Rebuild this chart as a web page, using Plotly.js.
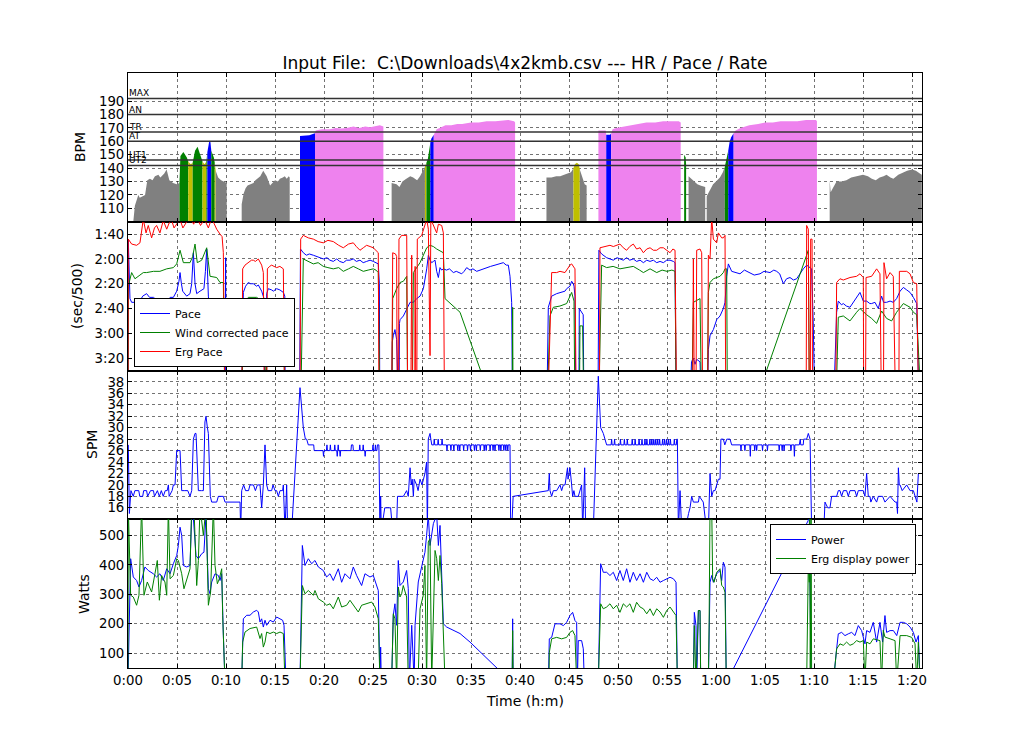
<!DOCTYPE html>
<html><head><meta charset="utf-8">
<script src="https://cdn.plot.ly/plotly-3.0.1.min.js"></script>
<style>html,body{margin:0;padding:0;background:#fff}</style>
</head><body><div id="chart" style="width:1024px;height:742px"></div>
<script>
// ---------- DATA (time in minutes) ----------
const zoneNames = ['MAX','AN','TR','AT','UT1','UT2'];
const zoneBpm   = [192, 180, 167, 160, 146, 142];

const xTickVals = [0,5,10,15,20,25,30,35,40,45,50,55,60,65,70,75,80];
const xTickLabels = ['0:00','0:05','0:10','0:15','0:20','0:25','0:30','0:35','0:40','0:45','0:50','0:55','1:00','1:05','1:10','1:15','1:20'];
const bpmTicks = [110,120,130,140,150,160,170,180,190];
const paceTickVals = [100,120,140,160,180,200];
const paceTickLabels = ['1:40','2:00','2:20','2:40','3:00','3:20'];
const spmTicks = [16,18,20,22,24,26,28,30,32,34,36,38];
const wattTicks = [100,200,300,400,500];
const panelTitles = ['BPM','(sec/500)','SPM','Watts'];
const chartTitle = 'Input File:\u00a0 C:\\Downloads\\4x2kmb.csv --- HR / Pace / Rate';
const xTitle = 'Time (h:m)';

const hrSamples = [
[0.54,100],[0.7,112],[1.05,120],[1.2,118],[1.5,119],[1.74,120],[1.97,131],[2.24,132],[2.5,131],[2.75,134],[3.1,135],[3.3,133],[3.43,134],[3.7,136],[3.94,139],[4.22,131],[4.6,129],[4.97,128],[5.25,129],[5.35,149],[5.65,152],[6.0,148],[6.15,145],[6.4,143],[6.6,144],[6.7,147],[6.84,153],[7.1,156],[7.4,149],[7.6,145],[7.8,143],[8.0,145],[8.1,152],[8.3,160.5],[8.4,160],[8.5,153],[8.76,148],[8.85,144],[8.95,138],[9.2,133],[9.5,131],[9.8,130],[10.07,129],[10.1,null],
[11.6,113],[11.8,121],[12.0,125],[12.2,127],[12.5,128],[12.8,129],[13.0,131],[13.2,132],[13.5,134],[13.8,138],[14.15,134],[14.5,127],[14.75,129],[15.0,131],[15.3,130],[15.5,132],[15.8,133],[16.0,134],[16.2,132],[16.4,134],[16.5,133],[16.55,null],
[17.55,164],[18.0,164],[18.5,164.5],[19.08,166],[19.15,168],[19.8,169],[20.6,169],[21.2,170],[21.8,169.5],[22.3,170],[23.0,171],[23.6,170],[24.2,171],[24.7,170.5],[25.2,171],[25.7,172],[26.06,171],[26.1,null],
[26.9,129],[27.4,128],[27.7,126],[28.0,130],[28.4,132],[28.8,134],[29.1,133],[29.5,131],[29.8,134],[30.1,138],[30.3,141],[30.45,144],[30.6,147],[30.85,159],[30.95,162],[31.2,165],[31.4,167.5],[31.5,169],[31.8,170],[32.4,172],[33.0,172],[33.6,173],[34.1,173],[35.0,174],[35.8,174],[36.6,175],[37.5,175],[38.2,175.5],[38.8,176],[39.4,175],[39.5,174],[39.55,null],
[42.7,133],[43.2,133],[43.7,134],[44.1,134],[44.5,135],[44.9,136],[45.2,137],[45.45,140],[45.6,143],[45.8,144],[46.0,143],[46.1,139],[46.3,134],[46.6,128],[46.8,127],[46.85,null],
[48.0,168],[48.4,168],[48.75,168],[48.8,165],[49.2,165],[49.3,166],[49.45,169],[49.8,170],[50.5,171],[51.2,172],[52.0,173],[52.9,174],[53.8,174],[54.6,175],[55.4,175],[56.2,175],[56.4,174],[56.45,null],
[56.75,150],[56.9,148],[56.95,143],[57.0,null],[57.2,134],[57.5,132],[57.8,130],[58.1,128],[58.4,127],[58.9,126],[58.95,null],[59.05,119],[59.2,121],[59.4,124],[59.7,128],[60.0,130],[60.4,133],[60.7,137],[60.9,141],[61.1,147],[61.25,153],[61.4,160],[61.55,163],[61.8,166],[61.95,167.5],[62.0,168],[62.5,170],[63.4,172],[64.3,173],[65.0,174],[65.8,174],[66.6,175],[67.5,175],[68.3,175],[69.2,176],[70.2,176],[70.3,175],[70.35,null],
[71.6,131],[71.7,122],[71.85,124],[72.3,130],[72.8,130],[73.3,131],[73.8,133],[74.4,134],[75.0,135],[75.5,134],[75.9,132],[76.3,131],[76.7,133],[77.1,134],[77.4,135],[77.8,133],[78.1,132],[78.6,135],[79.1,137],[79.5,138],[80.0,139],[80.4,138],[80.8,136],[81.0,135]
];

const paceSamples = [
[0,250],[0.03,104],[0.2,152],[0.37,155],[0.71,155],[1.0,153],[1.22,154],[1.5,150],[1.9,148],[2.2,151],[2.6,151],[2.9,153],[3.26,152],[3.6,155],[3.95,154],[4.3,151],[4.63,151],[4.97,146],[5.2,138],[5.31,131],[5.45,140],[5.58,146],[5.99,150],[6.33,148],[6.5,140],[6.67,115],[6.84,140],[7.01,148],[7.35,146],[7.75,144],[7.9,130],[8.03,112],[8.2,150],[8.3,160],[8.54,158],[8.88,157],[9.2,158],[9.39,156],[9.56,155],[9.73,154],[9.85,175],[9.9,250],[9.96,119],[10.0,250],
[11.55,250],[11.7,160],[11.77,147],[12.0,142],[12.28,139],[12.5,140],[12.79,140],[13.13,142],[13.3,141],[13.64,146],[13.88,152],[13.95,250],[14.1,250],[14.15,148],[14.32,144],[14.66,145],[14.83,146],[15.17,144],[15.5,145],[15.85,147],[16.0,150],[16.05,250],
[17.5,250],[17.6,112],[17.89,115],[18.2,117],[18.5,116],[18.91,117],[19.3,118],[19.6,119],[19.93,120],[20.3,119],[20.6,121],[20.95,122],[21.3,120],[21.6,122],[21.97,123],[22.3,121],[22.65,121],[22.99,120],[23.3,122],[23.67,121],[24.0,123],[24.35,122],[24.7,121],[25.03,122],[25.3,123],[25.54,124],[25.65,140],[25.7,250],
[26.9,250],[26.97,187],[27.07,182],[27.24,177],[27.41,185],[27.48,250],[27.65,250],[27.7,172],[27.76,169],[28.1,166],[28.44,160],[28.78,155],[29.12,155],[29.46,152],[29.8,150],[30.14,144],[30.48,128],[30.65,117],[30.82,121],[30.99,123],[31.16,122],[31.33,121],[31.5,130],[31.67,135],[31.84,127],[32.01,129],[32.18,128],[32.5,129],[32.8,128],[33.2,131],[33.5,130],[33.88,131],[34.05,132],[34.3,130],[34.56,127],[34.9,129],[35.2,128],[35.58,130],[35.92,129],[36.2,128],[36.6,127],[37.0,126],[37.45,125],[37.8,124],[38.3,123],[38.6,125],[38.81,125],[38.98,134],[39.15,155],[39.25,250],
[42.72,250],[42.89,159],[43.23,150],[43.74,148],[44.25,147],[44.59,146],[44.76,144],[45.1,142],[45.27,138],[45.44,140],[45.51,142],[45.61,150],[45.71,250],[46.0,250],[46.05,160],[46.29,163],[46.45,165],[46.53,250],
[47.95,250],[48.05,113],[48.33,116],[48.84,119],[49.18,120],[49.52,121],[49.9,119],[50.2,120],[50.54,121],[50.88,119],[51.2,121],[51.56,120],[51.9,122],[52.25,121],[52.59,123],[52.93,121],[53.27,122],[53.61,121],[53.95,123],[54.29,122],[54.63,123],[54.97,121],[55.31,121],[55.65,122],[55.82,123],[55.95,250],
[57.3,250],[57.5,203],[57.69,200],[57.86,205],[58.03,201],[58.37,203],[58.54,250],[59.1,250],[59.22,193],[59.39,182],[59.56,180],[59.73,177],[60.07,169],[60.41,166],[60.75,160],[60.92,155],[61.09,134],[61.26,124],[61.6,130],[62.0,131],[62.45,132],[62.9,129],[63.47,131],[63.9,133],[64.49,132],[64.9,130],[65.51,131],[65.9,129],[66.19,130],[66.5,132],[66.87,140],[67.2,136],[67.55,135],[67.9,137],[68.23,136],[68.6,131],[68.91,128],[69.25,125],[69.6,127],[69.76,128],[69.93,174],[70.1,250],
[71.95,250],[72.31,163],[72.48,154],[72.8,157],[72.99,156],[73.3,158],[73.67,159],[74.0,155],[74.35,151],[74.69,147],[75.03,154],[75.37,154],[75.7,156],[75.88,156],[76.22,155],[76.39,157],[76.56,160],[76.9,150],[77.1,155],[77.41,155],[77.76,154],[78.09,155],[78.43,152],[78.78,146],[79.12,143],[79.46,145],[79.8,147],[80.14,151],[80.48,156],[80.75,250],[81.0,250]
];

const windPaceSamples = [
[0,250],[0.03,142],[0.37,131],[0.71,136],[1.22,133],[1.56,131],[1.9,131],[2.6,130],[3.26,130],[3.95,128],[4.63,127],[4.97,124],[5.31,113],[5.65,123],[6.33,123],[6.6,118],[6.84,108],[7.07,123],[7.52,121],[7.85,115],[8.03,111],[8.37,134],[9.05,135],[9.39,139],[9.73,139],[9.9,250],
[11.6,250],[11.77,156],[12.28,151],[13.13,151],[13.64,154],[13.88,159],[13.95,250],[14.1,250],[14.2,158],[14.32,156],[15.17,155],[15.85,155],[16.02,250],
[17.6,250],[17.89,120],[18.4,122],[18.91,124],[19.4,123],[19.93,126],[20.4,127],[20.95,128],[21.5,127],[21.97,130],[22.5,128],[22.99,126],[23.5,128],[24.01,130],[24.5,129],[25.03,128],[25.3,129],[25.54,131],[25.7,250],
[26.9,250],[27.01,152],[27.41,144],[27.76,139],[28.1,138],[28.44,134],[28.55,250],[29.0,250],[29.12,131],[29.8,123],[30.48,111],[30.82,109],[31.16,110],[31.5,112],[32.18,115],[32.35,152],[33.88,163],[36.2,215],[39.2,250],[39.25,159],[39.3,250],
[42.72,250],[43.06,166],[43.4,159],[44.08,158],[44.76,156],[45.27,147],[45.51,154],[45.61,250],[46.05,250],[46.12,174],[46.39,174],[46.53,250],
[48.0,250],[48.33,125],[48.84,127],[49.5,126],[50.2,128],[50.9,127],[51.56,126],[52.2,129],[52.59,131],[53.27,128],[53.95,131],[54.5,129],[55.0,130],[55.5,129],[55.82,130],[55.95,250],
[57.5,250],[57.69,155],[58.37,152],[58.54,250],[59.1,250],[59.22,147],[59.39,139],[59.73,136],[60.41,134],[60.75,131],[60.92,128],[61.09,128],[61.2,300],[69.42,113],[69.55,250],
[72.2,250],[72.48,167],[72.99,166],[73.67,170],[74.35,163],[74.69,160],[75.37,165],[75.88,168],[76.39,172],[76.9,162],[77.41,168],[77.92,170],[78.43,163],[79.12,156],[79.8,159],[80.14,163],[80.48,165],[80.75,250],[81.0,250]
];

const ergPaceSamples = [
[0,250],[0.03,104],[0.37,108],[0.88,109],[1.22,107],[1.56,88],[1.84,99],[2.07,93],[2.41,103],[2.7,95],[2.92,93],[3.26,99],[3.6,89],[3.95,96],[4.2,91],[4.46,89],[4.7,95],[4.97,92],[5.3,88],[5.6,95],[6.0,90],[6.3,86],[6.7,92],[7.0,86],[7.4,93],[7.8,88],[8.2,95],[8.5,88],[8.7,90],[9.05,96],[9.39,100],[9.6,102],[9.73,115],[9.9,250],
[11.6,250],[11.7,128],[11.94,125],[12.28,123],[12.6,121],[12.79,121],[13.0,122],[13.3,120],[13.64,125],[13.81,131],[13.93,250],[14.15,250],[14.22,128],[14.45,126],[14.66,125],[14.9,126],[15.17,127],[15.5,126],[15.85,128],[16.0,250],
[17.55,250],[17.62,104],[17.89,101],[18.4,103],[18.91,104],[19.4,106],[19.93,107],[20.4,105],[20.95,106],[21.5,109],[21.97,111],[22.5,108],[22.99,107],[23.3,110],[23.67,113],[24.01,111],[24.35,109],[24.7,110],[25.03,111],[25.54,115],[25.62,250],
[26.9,250],[27.01,115],[27.3,116],[27.41,118],[27.48,250],[27.6,250],[27.65,104],[27.92,101],[28.44,101],[28.55,250],[28.85,250],[28.95,117],[29.05,250],[29.25,250],[29.3,126],[29.39,250],[29.46,250],[29.52,104],[29.97,101],[30.31,93],[30.48,88],[30.65,96],[30.82,198],[30.9,88],[31.16,93],[31.5,99],[31.67,92],[32.01,93],[32.18,99],[32.3,250],
[42.8,250],[43.23,131],[43.74,131],[44.08,130],[44.59,131],[44.9,127],[45.1,125],[45.27,124],[45.51,127],[45.61,128],[45.75,250],
[48.1,250],[48.16,111],[48.84,110],[49.18,109],[49.52,110],[50.2,108],[50.54,111],[50.88,113],[51.2,110],[51.56,108],[51.9,112],[52.25,111],[52.59,115],[52.93,112],[53.27,111],[53.61,113],[53.95,113],[54.29,111],[54.63,111],[54.97,113],[55.31,115],[55.6,112],[55.82,113],[55.99,250],
[57.6,250],[57.69,120],[57.8,250],[57.95,250],[58.03,113],[58.37,112],[58.54,115],[58.65,250],[59.15,250],[59.22,117],[59.39,120],[59.56,87],[59.73,104],[60.07,107],[60.24,99],[60.58,103],[60.75,103],[60.92,101],[61.0,250],[69.2,250],[69.25,93],[69.42,96],[69.52,250],[69.62,250],[69.66,104],[69.8,104],[69.86,250],
[72.2,250],[72.31,139],[72.65,136],[72.99,137],[73.67,135],[74.35,134],[74.69,132],[75.03,135],[75.08,250],[75.25,250],[75.31,135],[75.88,134],[76.39,128],[76.73,132],[76.9,250],[77.08,250],[77.14,123],[77.41,136],[77.76,131],[78.09,134],[78.35,250],[78.65,250],[78.71,130],[79.46,130],[79.8,132],[80.14,139],[80.48,140],[80.7,250],[81.0,250]
];

const spmSamples = [
[0.03,27],[0.14,15],[0.3,19],[0.54,18],[0.7,19],[1.1,19],[1.2,18],[1.5,18],[1.6,19],[1.9,19],[2.0,18],[2.3,19],[2.6,19],[2.7,18],[3.0,19],[3.2,18],[3.4,19],[3.6,18],[3.8,19],[4.0,19],[4.12,20],[4.2,18],[4.5,19],[4.63,20],[4.8,20],[4.97,26],[5.31,26],[5.48,19],[5.8,19],[6.1,19],[6.33,18],[6.5,19],[6.67,28],[6.84,29],[6.94,29],[7.07,22],[7.18,19],[7.5,19],[7.69,19],[7.85,31],[7.96,32],[8.1,30],[8.2,29],[8.4,18],[8.54,17],[9.05,17],[9.22,18],[9.73,18],[9.9,17],[11.43,17],[11.5,12],
[11.6,19],[11.8,20],[12.0,19],[12.3,19],[12.45,20],[12.8,20],[13.0,19],[13.2,20],[13.47,20],[13.64,16],[13.81,20],[13.98,27],[14.15,20],[14.3,19],[14.66,19],[14.8,20],[15.0,19],[15.17,19],[15.34,18],[15.51,19],[15.78,19],[15.85,20],[16.02,12],[16.19,20],[16.29,12],[16.7,12],[17.55,37],[17.89,30],[18.1,28],[18.23,28],[18.4,27],
[18.74,27],[18.95,27],[19.0,26],[19.9,26],[19.95,25],[20.0,26],[20.25,26],[20.3,27],[20.35,26],[20.6,26],[20.65,27],[20.7,26],[21.05,26],[21.1,27],[21.15,26],[21.3,26],[21.35,25],[21.4,26],[21.45,27],[21.5,26],[21.6,26],[21.65,25],[21.7,26],[22.75,26],[22.8,27],[22.95,27],[23.0,26],[23.6,26],[23.65,27],[23.7,26],[23.95,26],[24.0,27],[24.05,26],[24.15,26],[24.2,25],[24.25,26],[24.95,26],[25.0,27],[25.05,26],[25.2,26],[25.25,27],[25.3,26],[25.4,26],[25.45,27],[25.6,27],[25.71,12],
[25.78,18],[25.85,12],[26.2,16],[26.5,16],[26.8,16],[27.0,12],[27.4,12],[27.5,18],[27.75,18],[28.1,18],[28.43,19],[28.6,18],[28.78,23],[28.9,20],[29.0,21],[29.12,18],[29.2,21],[29.45,20],[29.6,19],[29.8,21],[30.0,20],[30.13,21],[30.3,22],[30.47,24],[30.55,12],
[30.64,28],[30.82,29],[30.9,28],[31.0,27],[31.2,27],[31.25,28],[31.3,27],[31.6,27],[31.65,28],[31.7,27],[32.0,27],[32.05,28],[32.1,27],[32.5,27],[32.55,26],[32.6,27],[32.9,27],[32.95,26],[33.0,27],[33.2,27],[33.25,26],[33.3,27],[33.6,27],[33.65,26],[33.7,27],[33.8,27],[33.85,26],[33.9,27],[34.2,27],[34.25,26],[34.3,27],[34.6,27],[34.65,26],[34.7,27],[34.9,27],[34.95,26],[35.0,27],[35.3,27],[35.35,26],[35.4,27],[35.5,27],[35.55,26],[35.6,27],[35.9,27],[35.95,26],[36.0,27],[36.3,27],[36.35,26],[36.4,27],[36.5,27],[36.55,26],[36.6,27],[36.9,27],[36.95,26],[37.0,27],[37.2,27],[37.25,26],[37.3,27],[37.4,27],[37.45,26],[37.5,27],[37.8,27],[37.85,26],[37.9,27],[38.0,27],[38.05,26],[38.1,27],[38.3,27],[38.35,26],[38.4,27],[38.5,27],[38.55,26],[38.6,27],[38.7,27],[38.75,26],[38.8,27],[38.98,27],[39.05,12],[39.15,12],[39.3,18],
[42.89,19],[42.99,22],[43.06,19],[43.23,18],[43.4,19],[43.74,19],[44.08,20],[44.25,19],[44.42,20],[44.6,20],[44.76,22],[44.85,23],[44.9,21],[45.1,23],[45.27,20],[45.37,18],[45.5,19],[45.61,18],[45.95,18],[46.29,20],[46.4,12],[46.6,23],[46.7,12],[47.48,12],[47.99,39],[48.23,30],[48.5,29],[48.67,28],
[48.84,27],[49.3,27],[49.35,28],[49.4,27],[49.6,27],[49.65,28],[49.7,27],[50.2,27],[50.25,28],[50.3,27],[50.6,27],[50.65,28],[50.7,27],[50.9,27],[50.95,28],[51.0,27],[51.4,27],[51.45,28],[51.5,27],[51.7,27],[51.75,28],[51.8,27],[52.1,27],[52.15,28],[52.2,27],[52.4,27],[52.45,28],[52.5,27],[52.7,27],[52.75,28],[52.8,27],[52.9,27],[52.95,28],[53.0,27],[53.2,27],[53.25,28],[53.3,27],[53.4,27],[53.45,28],[53.5,27],[53.6,27],[53.65,28],[53.7,27],[53.8,27],[53.85,28],[53.9,27],[54.0,27],[54.05,28],[54.1,27],[54.2,27],[54.25,28],[54.3,27],[54.5,27],[54.55,28],[54.6,27],[54.7,27],[54.75,28],[54.8,27],[54.9,27],[54.95,28],[55.0,27],[55.1,27],[55.15,28],[55.2,27],[55.3,27],[55.35,28],[55.4,27],[55.7,27],[55.75,28],[55.8,27],[55.95,27],[56.0,28],[56.06,28],[56.16,12],
[56.33,19],[56.5,12],[56.84,12],[57.2,15],[57.35,16],[57.52,18],[57.69,17],[58.2,17],[58.3,18],[58.7,17],[59.05,12],[59.22,12],[59.39,22],[59.56,18],[59.73,19],[59.9,19],[60.07,20],[60.24,21],[60.41,21],
[60.5,28],[60.75,28],[60.9,27],[61.1,28],[61.43,28],[61.6,27],[62.5,27],[62.55,26],[62.6,27],[62.9,27],[62.95,26],[63.0,27],[63.45,27],[63.5,25],[63.55,27],[63.9,27],[63.95,26],[64.0,27],[64.1,27],[64.15,26],[64.2,27],[64.7,27],[64.75,26],[64.8,27],[65.2,27],[65.25,26],[65.3,27],[66.4,27],[66.45,26],[66.5,27],[66.7,27],[66.75,26],[66.8,27],[66.9,27],[66.95,26],[67.0,27],[67.6,27],[67.65,26],[67.7,27],[67.95,27],[68.0,25],[68.05,27],[68.5,27],[68.6,28],[68.65,27],[68.9,27],[68.95,28],[69.1,28],[69.25,28],[69.42,29],[69.6,28],[69.76,12],
[71.0,12],[71.12,17],[71.4,16],[71.63,16],[71.8,18],[72.31,18],[72.48,19],[72.65,19],[72.82,18],[73.0,19],[73.33,19],[73.5,18],[73.67,19],[74.18,19],[74.35,18],[74.52,19],[75.03,19],[75.2,18],[75.37,22],[75.54,18],[75.71,18],[75.8,17],[76.05,18],[76.39,17],[76.56,18],[77.0,18],[77.24,17],[77.76,18],[78.27,17],[78.44,17],[78.52,15],[78.61,23],[78.7,20],[78.78,20],[79.0,19],[79.46,20],[79.8,19],[80.14,19],[80.3,18],[80.5,17],[80.65,22],[80.99,22]
];

const powerSamples = [
[0,0],[0.27,421],[0.54,359],[0.88,347],[1.12,325],[1.39,347],[1.73,393],[2.07,381],[2.58,370],[2.92,359],[3.26,370],[3.6,347],[3.95,387],[4.29,370],[4.63,404],[4.97,432],[5.14,466],[5.31,528],[5.48,500],[5.65,398],[5.99,393],[6.33,398],[6.5,570],[6.67,560],[6.94,432],[7.18,421],[7.52,438],[7.75,443],[7.96,570],[8.2,319],[8.37,302],[8.54,342],[8.88,370],[9.22,364],[9.39,347],[9.56,370],[9.73,161],[9.9,0],
[11.6,0],[11.77,217],[12.11,229],[12.45,229],[12.79,240],[13.13,246],[13.3,240],[13.47,206],[13.64,217],[13.81,189],[13.98,212],[14.15,195],[14.49,212],[14.83,206],[15.17,223],[15.51,217],[15.78,212],[15.92,195],[16.12,0],
[17.55,0],[17.79,466],[18.06,398],[18.4,421],[18.74,404],[19.08,415],[19.42,393],[19.93,381],[20.27,359],[20.61,370],[20.95,347],[21.46,387],[21.8,341],[22.14,370],[22.65,353],[22.99,393],[23.33,364],[23.84,330],[24.18,370],[24.69,359],[25.03,364],[25.37,330],[25.54,313],[25.71,0],[25.78,121],[25.85,0],
[26.9,0],[27.07,229],[27.24,268],[27.41,195],[27.58,415],[27.75,330],[28.09,342],[28.43,381],[28.6,319],[28.71,0],[28.95,195],[29.05,0],[29.2,0],[29.29,195],[29.45,285],[29.62,342],[29.96,393],[30.3,443],[30.47,500],[30.64,570],[30.82,466],[31.16,540],[31.5,570],[31.67,466],[31.84,534],[32.18,200],[32.52,189],[33.88,167],[34.9,138],[37.62,48],[39.2,0],[39.25,217],[39.3,0],
[42.9,0],[42.99,149],[43.23,154],[43.57,200],[44.08,200],[44.42,194],[44.76,205],[45.1,228],[45.37,239],[45.61,211],[45.78,205],[45.85,0],[45.95,143],[46.29,143],[46.46,115],[46.56,0],
[47.99,0],[48.23,404],[48.5,375],[48.84,375],[49.18,364],[49.52,375],[49.86,347],[50.2,381],[50.54,347],[50.88,387],[51.22,341],[51.56,375],[51.9,347],[52.25,370],[52.59,341],[52.93,375],[53.27,353],[53.61,347],[53.95,358],[54.29,341],[54.63,347],[54.97,353],[55.31,358],[55.65,353],[55.92,341],[56.06,0],
[57.69,0],[57.79,239],[57.96,194],[58.03,0],[58.2,245],[58.37,245],[58.44,0],[59.22,0],[59.3,194],[59.39,341],[59.56,364],[59.73,341],[60.07,370],[60.41,381],[60.58,347],[60.75,409],[60.92,392],[61.05,0],[69.4,550],[69.52,570],[69.7,0],
[71.97,0],[72.31,115],[72.48,166],[72.82,171],[73.16,160],[73.5,166],[73.84,171],[74.18,160],[74.52,194],[74.86,177],[75.2,132],[75.37,177],[75.71,171],[76.05,205],[76.39,138],[76.73,205],[77.0,138],[77.24,228],[77.41,171],[77.76,177],[78.1,177],[78.44,160],[78.78,205],[79.12,205],[79.46,200],[79.8,189],[80.14,171],[80.41,138],[80.65,160],[80.82,0],[81.0,0]
];

const ergPowerSamples = [
[0,0],[0.03,600],[0.27,297],[0.54,291],[0.88,263],[1.12,297],[1.39,600],[1.63,297],[1.97,342],[2.41,308],[2.75,370],[2.99,415],[3.2,280],[3.43,364],[3.77,342],[3.95,297],[4.12,600],[4.29,353],[4.63,364],[4.97,421],[5.14,415],[5.48,370],[5.71,319],[5.99,347],[6.33,387],[6.5,600],[6.73,600],[7.01,330],[7.18,415],[7.35,600],[7.69,500],[7.96,600],[8.2,263],[8.43,308],[8.71,600],[8.88,398],[9.12,336],[9.32,353],[9.56,387],[9.66,229],[9.9,0],
[11.6,0],[11.7,138],[11.94,172],[12.45,184],[13.13,189],[13.47,150],[13.64,167],[13.81,121],[13.98,138],[14.15,172],[14.49,167],[14.83,172],[15.17,167],[15.51,172],[15.85,167],[16.02,0],
[17.55,0],[17.79,330],[18.06,302],[18.4,313],[18.91,297],[19.08,313],[19.42,285],[19.93,274],[20.27,263],[20.61,268],[20.95,251],[21.46,291],[21.8,257],[22.31,263],[22.65,280],[22.99,263],[23.5,240],[23.84,263],[24.35,268],[24.86,274],[25.2,257],[25.54,217],[25.71,0],
[26.9,0],[27.07,234],[27.24,217],[27.41,0],[27.58,325],[27.75,291],[27.92,302],[28.09,330],[28.43,291],[28.6,0],[29.6,0],[29.8,251],[30.13,297],[30.3,398],[30.47,0],[30.64,478],[30.82,489],[30.99,0],[31.33,449],[31.5,421],[31.67,347],[31.84,432],[32.01,336],[32.35,0],[39.2,0],[39.25,177],[39.3,0],
[42.95,0],[42.99,103],[43.23,149],[43.74,154],[44.25,149],[44.76,154],[45.1,171],[45.37,177],[45.61,160],[45.78,0],
[47.99,0],[48.23,268],[48.5,251],[48.84,257],[49.18,268],[49.52,251],[49.86,263],[50.2,239],[50.54,268],[50.88,257],[51.22,268],[51.56,239],[51.9,273],[52.25,257],[52.59,251],[52.93,234],[53.27,251],[53.61,228],[53.95,251],[54.29,240],[54.63,222],[54.97,245],[55.31,257],[55.65,240],[55.92,228],[56.06,0],
[57.69,0],[57.79,194],[57.96,0],[58.2,245],[58.37,245],[58.44,0],[59.22,0],[59.3,205],[59.39,600],[59.56,600],[59.66,353],[59.8,341],[60.07,375],[60.41,387],[60.58,330],[60.75,325],[60.92,307],[61.05,0],[69.25,0],[69.42,409],[69.52,341],[69.56,600],[69.62,0],[69.7,600],[69.76,0],
[71.97,0],[72.31,115],[72.65,132],[72.99,127],[73.33,138],[73.67,127],[74.01,132],[74.35,143],[74.69,138],[75.03,143],[75.2,0],[75.37,138],[75.71,132],[76.05,149],[76.73,143],[76.9,0],[77.07,178],[77.24,155],[77.76,149],[78.27,143],[78.44,0],[78.78,160],[79.46,160],[79.97,154],[80.31,132],[80.48,0],[80.65,138],[80.82,0],[81.0,0]
];

// ---------- STYLE ----------
const FONT = 'DejaVu Sans, Liberation Sans, sans-serif';
const zoneFillColors = ['#808080','#bfbf00','#008000','#0000ff','#ee82ee','#ff0000']; // below UT2, UT2, UT1, AT, TR, AN+
const PLOT_L = 128, PLOT_R = 922, PLOT_T = 73, PLOT_B = 668;
const PW = PLOT_R - PLOT_L, PH = PLOT_B - PLOT_T;
function px2paperX(px){ return (px - PLOT_L) / PW; }
function px2paperY(py){ return (PLOT_B - py) / PH; }

function col(arr, k){ return arr.map(p => p[k]); }

const zoneAsc = zoneBpm.slice().reverse(); // UT2, UT1, AT, TR, AN, MAX
function zoneOf(v){
  let z = 0;
  for (let i = 0; i < zoneAsc.length - 1; i++) if (v >= zoneAsc[i]) z = i + 1;
  return z;
}

const traces = [];
(function(){
  let cur = null;
  const runs = [];
  for (let i = 0; i < hrSamples.length - 1; i++) {
    const a = hrSamples[i], b = hrSamples[i+1];
    if (a[1] == null || b[1] == null) { cur = null; continue; }
    const z = zoneOf(Math.max(a[1], b[1]));
    if (cur && cur.z === z && cur.end === i) { cur.x.push(b[0]); cur.y.push(b[1]); cur.end = i + 1; }
    else { cur = {z: z, x: [a[0], b[0]], y: [a[1], b[1]], end: i + 1}; runs.push(cur); }
  }
  runs.forEach(r => traces.push({
    type: 'scatter', mode: 'lines', x: r.x, y: r.y, xaxis: 'x', yaxis: 'y',
    fill: 'tozeroy', fillcolor: zoneFillColors[r.z], line: {width: 0, color: zoneFillColors[r.z]},
    showlegend: false, hoverinfo: 'skip'
  }));
})();

function lineTrace(samples, name, color, xa, ya, legend, show){
  return {type: 'scatter', mode: 'lines', x: col(samples,0), y: col(samples,1), name: name,
    xaxis: xa, yaxis: ya, line: {color: color, width: 1}, showlegend: show, legend: legend, connectgaps: false};
}
traces.push(lineTrace(paceSamples, 'Pace', '#0000ff', 'x2', 'y2', 'legend', true));
traces.push(lineTrace(windPaceSamples, 'Wind corrected pace', '#008000', 'x2', 'y2', 'legend', true));
traces.push(lineTrace(ergPaceSamples, 'Erg Pace', '#ff0000', 'x2', 'y2', 'legend', true));
traces.push(lineTrace(spmSamples, 'SPM', '#0000ff', 'x3', 'y3', 'legend', false));
traces.push(lineTrace(powerSamples, 'Power', '#0000ff', 'x4', 'y4', 'legend2', true));
traces.push(lineTrace(ergPowerSamples, 'Erg display power', '#008000', 'x4', 'y4', 'legend2', true));

const axisCommon = {
  showline: true, linecolor: '#000', linewidth: 1, mirror: 'allticks',
  ticks: 'inside', ticklen: 4, tickcolor: '#000', tickwidth: 1,
  showgrid: true, gridcolor: 'rgba(0,0,0,0.55)', griddash: 'dot', gridwidth: 1,
  zeroline: false, tickfont: {family: FONT, size: 13.3, color: '#000'}
};
function xAxis(anchor, showLabels){
  return Object.assign({}, axisCommon, {
    anchor: anchor, domain: [0,1], range: [0, 81.02], tickmode: 'array',
    tickvals: xTickVals, ticktext: xTickLabels, showticklabels: showLabels
  });
}
function yAxis(domain, range, tickvals, ticktext){
  const ax = Object.assign({}, axisCommon, {domain: domain, range: range, tickmode: 'array', tickvals: tickvals});
  if (ticktext) ax.ticktext = ticktext;
  return ax;
}

// axis-title placement (pixel centres measured on the figure)
const titleCentres = [[80, 147], [77, 296], [92, 445], [84, 594]];
const annotations = zoneNames.map((n, i) => ({text: n, xref: 'x domain', x: 0, xanchor: 'left',
    yref: 'y', y: zoneBpm[i], yanchor: 'bottom', showarrow: false, borderpad: 0, yshift: -1,
    font: {family: FONT, size: 9, color: '#000'}}));
panelTitles.forEach((t, i) => annotations.push({text: t, xref: 'paper', yref: 'paper',
  x: px2paperX(titleCentres[i][0]), y: px2paperY(titleCentres[i][1]), xanchor: 'center', yanchor: 'middle',
  textangle: -90, showarrow: false, font: {family: FONT, size: 14, color: '#000'}}));
annotations.push({text: xTitle, xref: 'paper', yref: 'paper', x: 0.5, y: px2paperY(701),
  xanchor: 'center', yanchor: 'middle', showarrow: false, font: {family: FONT, size: 14, color: '#000'}});

const layout = {
  width: 1024, height: 742,
  margin: {l: PLOT_L, r: 1024 - PLOT_R, t: PLOT_T, b: 742 - PLOT_B},
  paper_bgcolor: '#fff', plot_bgcolor: '#fff',
  font: {family: FONT, color: '#000'},
  title: {text: chartTitle,
    x: 0.5, xref: 'paper', xanchor: 'center', y: 1, yref: 'paper', yanchor: 'bottom', pad: {b: 4},
    font: {family: FONT, size: 17, color: '#000'}},
  xaxis: Object.assign(xAxis('y', false), {matches: 'x4'}),
  xaxis2: Object.assign(xAxis('y2', false), {matches: 'x4'}),
  xaxis3: Object.assign(xAxis('y3', false), {matches: 'x4'}),
  xaxis4: xAxis('y4', true),
  yaxis: yAxis([0.75, 1], [100, 211], bpmTicks, null),
  yaxis2: yAxis([0.5, 0.75], [210, 90], paceTickVals, paceTickLabels),
  yaxis3: yAxis([0.25, 0.5], [14, 40], spmTicks, null),
  yaxis4: yAxis([0, 0.25], [50, 555], wattTicks, null),
  showlegend: true,
  legend: {x: px2paperX(134), xanchor: 'left', y: px2paperY(367), yanchor: 'bottom', bgcolor: '#fff',
    bordercolor: '#000', borderwidth: 1, font: {family: FONT, size: 11, color: '#000'},
    tracegroupgap: 0, itemwidth: 30},
  legend2: {x: px2paperX(916), xanchor: 'right', y: px2paperY(524), yanchor: 'top', bgcolor: '#fff',
    bordercolor: '#000', borderwidth: 1, font: {family: FONT, size: 11, color: '#000'},
    tracegroupgap: 0, itemwidth: 30},
  shapes: zoneBpm.map(v => ({type: 'line', xref: 'x domain', x0: 0, x1: 1, yref: 'y', y0: v, y1: v,
    line: {color: '#333', width: 1.5}, layer: 'above'})),
  annotations: annotations,
  hovermode: false
};

Plotly.newPlot('chart', traces, layout, {staticPlot: true, displayModeBar: false});
</script></body></html>
